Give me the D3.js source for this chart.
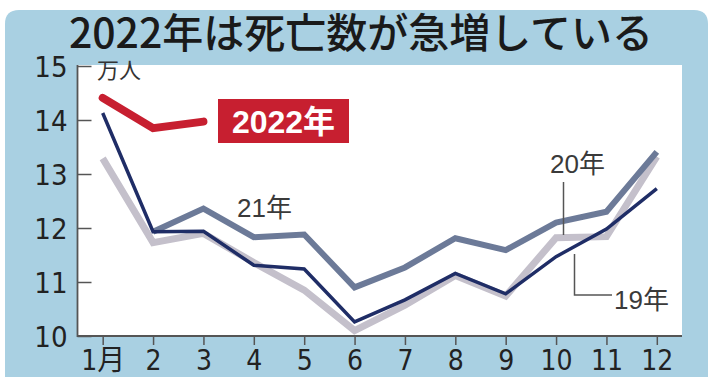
<!DOCTYPE html>
<html>
<head>
<meta charset="utf-8">
<script src="https://cdn.jsdelivr.net/npm/d3@7"></script>
<style>
  body { margin: 0; background: #fff; }
  svg { display: block; }
</style>
</head>
<body>
<div id="chart"></div>
<script>
// 月別死亡数（万人）
var months = ["1月", "2", "3", "4", "5", "6", "7", "8", "9", "10", "11", "12"];
var yTicks = [10, 11, 12, 13, 14, 15];
var y2019 = [14.13, 11.93, 11.94, 11.31, 11.24, 10.26, 10.67, 11.16, 10.78, 11.47, 11.98, 12.73];
var y2020 = [13.29, 11.73, 11.90, 11.36, 10.85, 10.10, 10.57, 11.12, 10.74, 11.82, 11.84, 13.32];
var y2021 = [null, 11.93, 12.36, 11.83, 11.88, 10.90, 11.27, 11.81, 11.59, 12.10, 12.30, 13.41];
var y2022 = [14.41, 13.85, 13.97];

var width = 720, height = 387;
var plot = {left: 77.5, right: 682, top: 65, bottom: 336};

var svg = d3.select("#chart").append("svg")
    .attr("width", width)
    .attr("height", height);

// 背景パネル
svg.append("path")
    .attr("d", "M5,377 L5,24 Q5,10 19,10 L694,10 Q708,10 708,24 L708,377 Z")
    .attr("fill", "#a9d0e2");

svg.append("rect")
    .attr("x", plot.left)
    .attr("y", plot.top)
    .attr("width", plot.right - plot.left)
    .attr("height", plot.bottom - plot.top)
    .attr("fill", "#fff");

svg.append("text")
    .attr("x", 361)
    .attr("y", 48)
    .attr("text-anchor", "middle")
    .style("font-family", "'Noto Sans CJK JP', sans-serif")
    .style("font-size", "41px")
    .style("font-weight", 500)
    .style("fill", "#1a1a1a")
    .text("2022年は死亡数が急増している");

var x = d3.scalePoint()
    .domain(months)
    .range([plot.left, plot.right])
    .padding(0.5);

var y = d3.scaleLinear()
    .domain([10, 15])
    .range([plot.bottom, 66]);

var tickFont = "'Liberation Sans Narrow', 'DejaVu Sans Condensed', sans-serif";

// y軸
var yAxis = svg.append("g")
    .attr("transform", "translate(" + plot.left + ",0)")
    .call(d3.axisRight(y).tickValues(yTicks).tickSize(14).tickFormat(d3.format("d")));
yAxis.select(".domain").remove();
yAxis.selectAll(".tick line").attr("stroke", "#555").attr("stroke-width", 1.5);
yAxis.selectAll(".tick text")
    .attr("x", -10)
    .attr("dy", "0.36em")
    .attr("text-anchor", "end")
    .style("font-family", tickFont)
    .style("font-size", "29px")
    .style("fill", "#222");

// x軸
var xAxis = svg.append("g")
    .attr("transform", "translate(0," + plot.bottom + ")")
    .call(d3.axisBottom(x).tickSize(9).tickSizeOuter(0));
xAxis.select(".domain").remove();
xAxis.selectAll(".tick line").attr("stroke", "#555").attr("stroke-width", 1.5);
xAxis.selectAll(".tick text")
    .attr("y", 14)
    .attr("dy", "0.71em")
    .style("font-family", tickFont + ", 'Noto Sans CJK JP'")
    .style("font-size", "28px")
    .style("fill", "#222");

// 軸線
svg.append("path")
    .attr("d", "M" + plot.left + "," + plot.top + " L" + plot.left + "," + plot.bottom + " L" + plot.right + "," + plot.bottom)
    .attr("fill", "none")
    .attr("stroke", "#555")
    .attr("stroke-width", 1.8);

svg.append("text")
    .attr("x", 97)
    .attr("y", 78)
    .style("font-family", "'Noto Sans CJK JP', sans-serif")
    .style("font-size", "22px")
    .style("fill", "#333")
    .text("万人");

var line = d3.line()
    .defined(function (d) { return d != null; })
    .x(function (d, i) { return x(months[i]); })
    .y(function (d) { return y(d); });

var series = [
    {values: y2020, color: "#c4c0cb", w: 7, cap: "butt"},
    {values: y2021, color: "#6c7a98", w: 6, cap: "butt"},
    {values: y2019, color: "#1f2d66", w: 3.5, cap: "butt"},
    {values: y2022, color: "#c71f30", w: 8, cap: "round"}
];

svg.selectAll(".series")
    .data(series)
    .enter().append("path")
    .attr("class", "series")
    .attr("d", function (d) { return line(d.values); })
    .attr("fill", "none")
    .attr("stroke", function (d) { return d.color; })
    .attr("stroke-width", function (d) { return d.w; })
    .attr("stroke-linecap", function (d) { return d.cap; })
    .attr("stroke-linejoin", "miter");

// ラベル
svg.append("rect")
    .attr("x", 218).attr("y", 99)
    .attr("width", 131).attr("height", 44)
    .attr("fill", "#c71f30");
svg.append("text")
    .attr("x", 283.5).attr("y", 133)
    .attr("text-anchor", "middle")
    .style("font-family", "'Liberation Sans', 'Noto Sans CJK JP', sans-serif")
    .style("font-size", "32px")
    .style("font-weight", "bold")
    .style("fill", "#fff")
    .text("2022年");

var labelFont = "'Liberation Sans', 'Noto Sans CJK JP', sans-serif";
var labels = [
    {t: "21年", x: 237, y: 217},
    {t: "20年", x: 550, y: 173},
    {t: "19年", x: 614, y: 309}
];
svg.selectAll(".lab")
    .data(labels)
    .enter().append("text")
    .attr("class", "lab")
    .attr("x", function (d) { return d.x; })
    .attr("y", function (d) { return d.y; })
    .style("font-family", labelFont)
    .style("font-size", "26px")
    .style("fill", "#3a3a3a")
    .text(function (d) { return d.t; });

// 引き出し線
svg.append("path")
    .attr("d", "M563.5,182 L563.5,235")
    .attr("fill", "none").attr("stroke", "#555").attr("stroke-width", 1.5);
svg.append("path")
    .attr("d", "M574.5,254 L574.5,295 L612,295")
    .attr("fill", "none").attr("stroke", "#555").attr("stroke-width", 1.5);
</script>
</body>
</html>
